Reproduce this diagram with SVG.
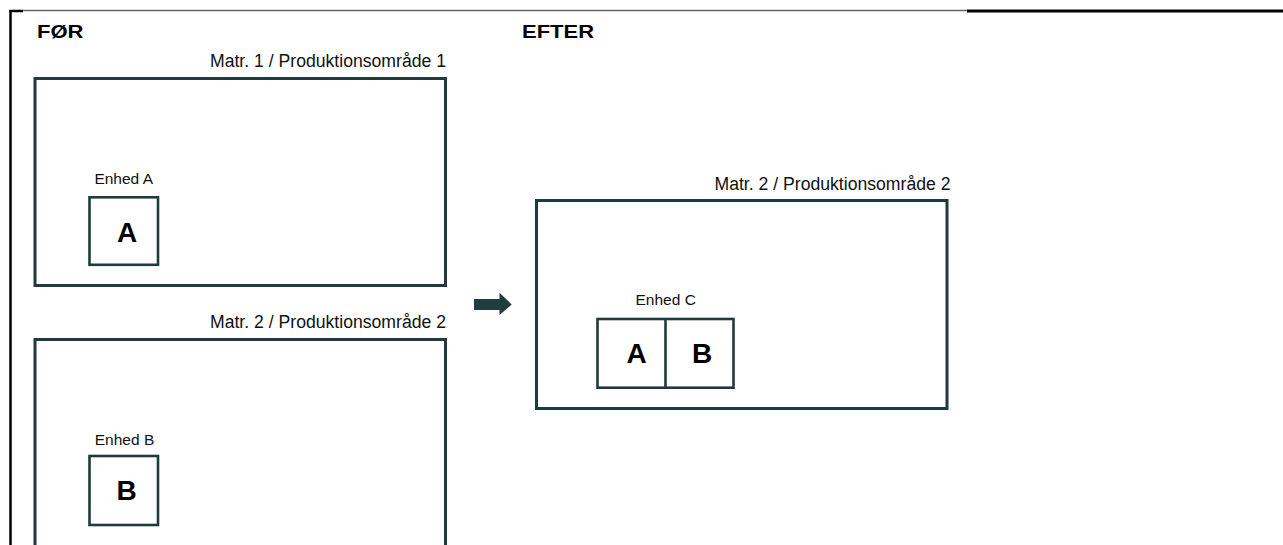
<svg xmlns="http://www.w3.org/2000/svg" width="1283" height="545" viewBox="0 0 1283 545">
<style>
.frame{fill:none;stroke:#1f3b3b;stroke-width:3}
.unit{fill:none;stroke:#1f3b3b;stroke-width:2.6}
.head{font-family:"Liberation Sans",Arial,sans-serif;font-weight:bold;font-size:19px;fill:#000}
.lbl{font-family:"Liberation Sans",Arial,sans-serif;font-size:18px;fill:#111}
.ulbl{font-family:"Liberation Sans",Arial,sans-serif;font-size:15.5px;fill:#111;text-anchor:middle}
.big{font-family:"Liberation Sans",Arial,sans-serif;font-weight:bold;font-size:28px;fill:#000;text-anchor:middle}
</style>
<rect width="1283" height="545" fill="#fff"/>
<g id="page-border">
<line x1="23" y1="10.5" x2="967" y2="10.5" stroke="#666" stroke-width="1.5"/>
<line x1="967" y1="11" x2="1283" y2="11" stroke="#000" stroke-width="3"/>
<line x1="9.5" y1="11" x2="23" y2="11" stroke="#000" stroke-width="2.5"/>
<line x1="10.5" y1="10" x2="10.5" y2="545" stroke="#000" stroke-width="2.5"/>
</g>
<g id="headings">
<text class="head" x="37" y="38.3" textLength="46.5" lengthAdjust="spacingAndGlyphs">FØR</text>
<text class="head" x="522" y="38.3" textLength="72" lengthAdjust="spacingAndGlyphs">EFTER</text>
</g>
<g id="matr1-before">
<text class="lbl" x="210" y="66.7" textLength="236" lengthAdjust="spacingAndGlyphs">Matr. 1 / Produktionsområde 1</text>
<rect class="frame" x="35" y="78.5" width="410.5" height="207"/>
</g>
<g id="enhed-a">
<text class="ulbl" x="123.7" y="184.3">Enhed A</text>
<rect class="unit" x="89.5" y="197.3" width="68.5" height="67.5"/>
<text class="big" x="127" y="241.7">A</text>
</g>
<g id="matr2-before">
<text class="lbl" x="210" y="328" textLength="236" lengthAdjust="spacingAndGlyphs">Matr. 2 / Produktionsområde 2</text>
<rect class="frame" x="35" y="339.5" width="410.5" height="220"/>
</g>
<g id="enhed-b">
<text class="ulbl" x="124.5" y="445">Enhed B</text>
<rect class="unit" x="89.5" y="456" width="68.5" height="69"/>
<text class="big" x="126.7" y="500">B</text>
</g>
<g id="matr2-after">
<text class="lbl" x="714.5" y="189.5" textLength="236" lengthAdjust="spacingAndGlyphs">Matr. 2 / Produktionsområde 2</text>
<rect class="frame" x="536.5" y="200.5" width="410.5" height="208"/>
</g>
<g id="enhed-c">
<text class="ulbl" x="665.7" y="305">Enhed C</text>
<rect class="unit" x="597.5" y="319" width="136" height="68.7"/>
<line class="unit" x1="665.5" y1="319" x2="665.5" y2="387.7"/>
<text class="big" x="636.7" y="362.7">A</text>
<text class="big" x="702" y="362.7">B</text>
</g>
<g id="connectors">
<polygon points="474,299 499.5,299 499.5,292.7 511.7,304.5 499.5,315 499.5,310 474,310" fill="#1f3d3d"/>
</g>
</svg>
